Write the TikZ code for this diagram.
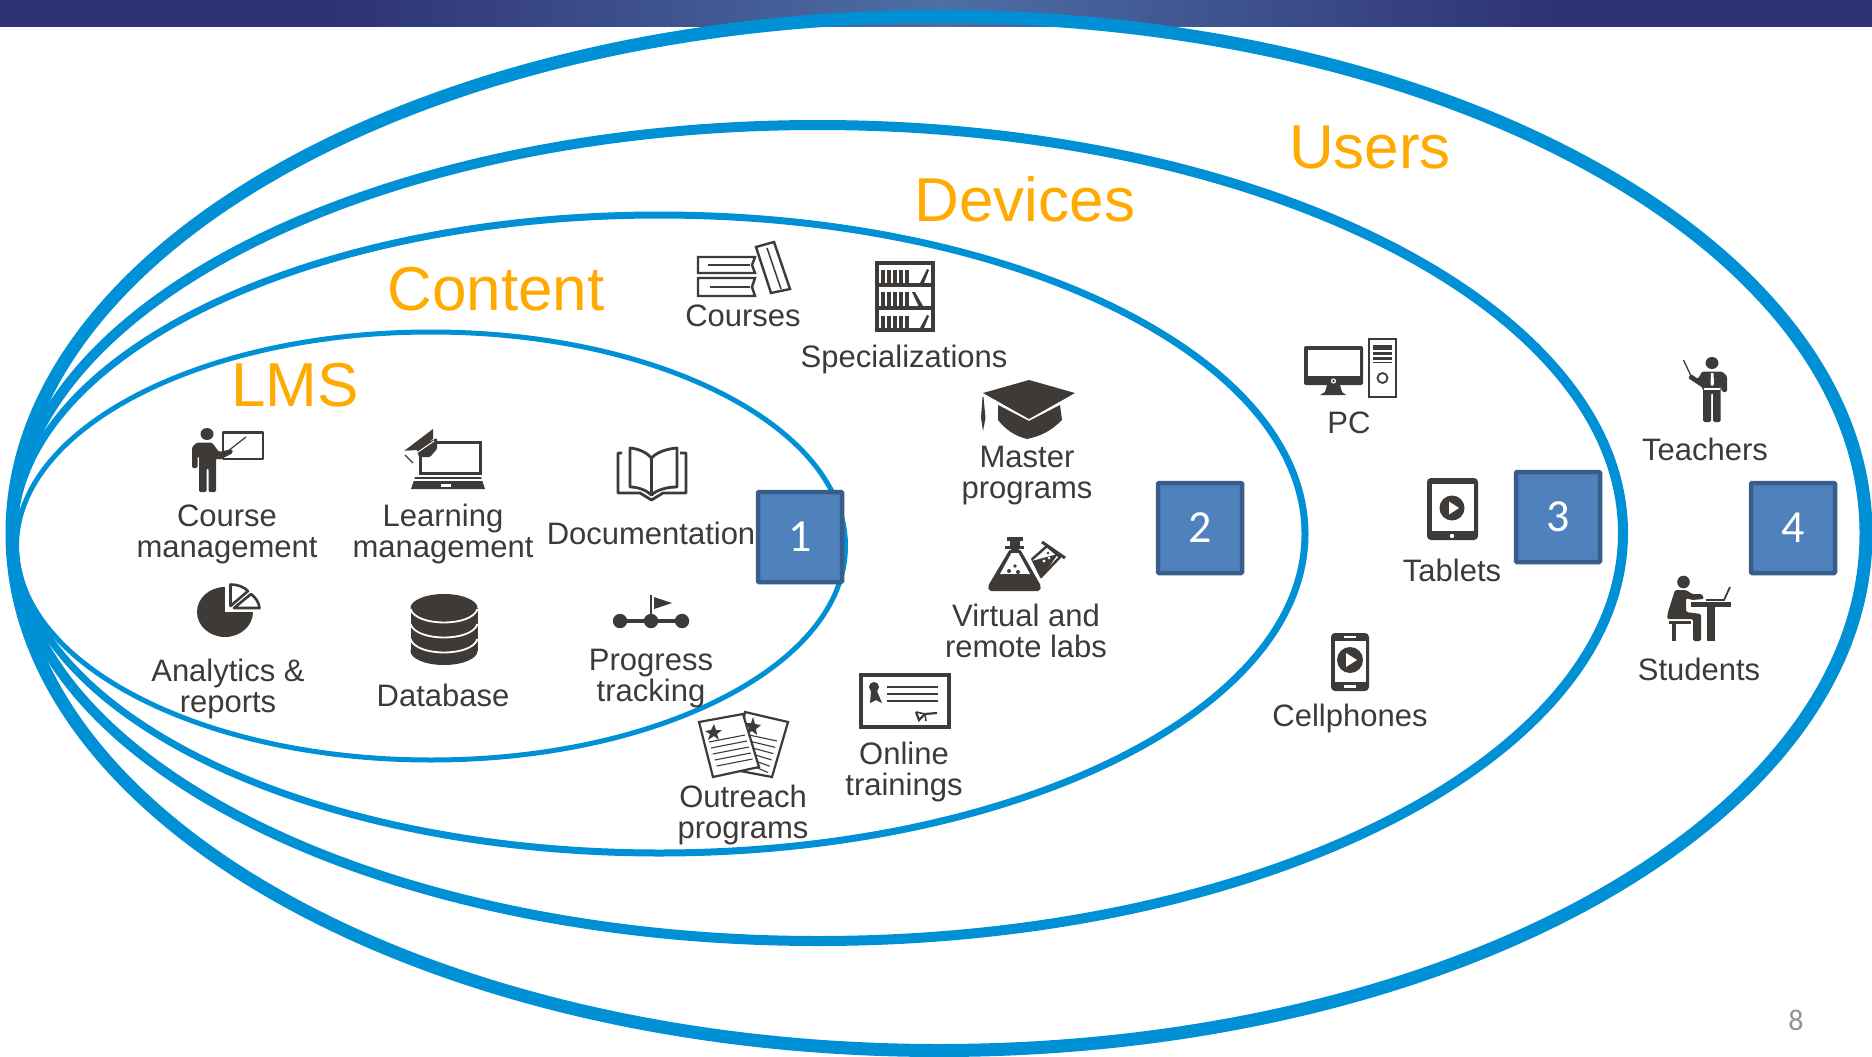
\documentclass[tikz,border=0pt]{standalone}
\usepackage{fontspec}
\setmainfont{Liberation Sans}
\newfontfamily\carlito{Carlito}
\usetikzlibrary{calc}
\definecolor{ringblue}{HTML}{0090D5}
\definecolor{headorange}{HTML}{FFAA00}
\definecolor{ink}{HTML}{3E3A37}
\definecolor{boxfill}{HTML}{4F81BD}
\definecolor{boxline}{HTML}{385D8A}
\definecolor{bardark}{HTML}{2D3272}
\definecolor{barlight}{HTML}{4D6FA5}
\tikzset{
  x=1pt,y=-1pt,
  ring/.style={draw=ringblue},
  heading/.style={text=headorange,font=\fontsize{62}{62}\selectfont,inner sep=0pt},
  caption/.style={text=ink,align=center,inner sep=0pt,font=\fontsize{31}{31}\selectfont},
  numbox/.style={draw=boxline,fill=boxfill,line width=4.5pt,rounded corners=1pt,minimum width=84pt,minimum height=90pt,inner sep=0pt,text=white,font=\carlito\fontsize{46}{46}\selectfont},
  solid ink/.style={fill=ink,draw=none},
  outline/.style={draw=ink,line width=2.8pt,fill=white,line join=round},
  cutline/.style={draw=white,line width=1.8pt},
}
\begin{document}
\begin{tikzpicture}
\useasboundingbox (0,0) rectangle (1872,1057);
\fill[white] (0,0) rectangle (1872,1057);
% top bar
\fill[bardark] (0,0) rectangle (1872,27);
\begin{scope}
\clip (330,0) rectangle (1560,26.2);
\fill[left color=bardark,right color=barlight] (330,-5) rectangle (941,30);
\fill[left color=barlight,right color=bardark] (940,-5) rectangle (1560,30);
\end{scope}
% rings
\draw[ring,line width=13pt] (939,533.5) ellipse [x radius=927,y radius=517];
\draw[ring,line width=10pt] (818,533) ellipse [x radius=805,y radius=408];
\draw[ring,line width=7pt] (659.5,534) ellipse [x radius=645.5,y radius=319];
\draw[ring,line width=5pt] (431,546) ellipse [x radius=414.5,y radius=214];
% headings
\node[heading] (hlms) at (295,385) {LMS};
\node[heading] (hcontent) at (496,289) {Content};
\node[heading] (hdevices) at (1025,199) {Devices};
\node[heading] (husers) at (1370,147) {Users};
% captions
\node[caption] (tcourse) at (227,534) {Course\\management};
\node[caption] (tlearn) at (443,534) {Learning\\management};
\node[caption] (tdoc) at (651,533) {Documentation};
\node[caption] (tana) at (228,689) {Analytics \&\\reports};
\node[caption] (tdb) at (443,695) {Database};
\node[caption] (tprog) at (651,679) {Progress\\tracking};
\node[caption] (tcourses) at (743,316) {Courses};
\node[caption] (tspec) at (904,359) {Specializations};
\node[caption] (tmaster) at (1027,476) {Master\\programs};
\node[caption] (tlabs) at (1026,631) {Virtual and\\remote labs};
\node[caption] (ttrain) at (904,772) {Online\\trainings};
\node[caption] (toutreach) at (743,815) {Outreach\\programs};
\node[caption] (tpc) at (1349,423) {PC};
\node[caption] (ttablet) at (1452,570) {Tablets};
\node[caption] (tcell) at (1350,718) {Cellphones};
\node[caption] (tteach) at (1705,449) {Teachers};
\node[caption] (tstud) at (1699,669) {Students};
% number boxes
\node[numbox] (b1) at (800,537) {1};
\node[numbox] (b2) at (1200,528) {2};
\node[numbox] (b3) at (1558,517) {3};
\node[numbox] (b4) at (1793,528) {4};
\node[text=gray!85,font=\carlito\fontsize{30}{30}\selectfont,inner sep=0pt] (pageno) at (1796,1020) {8};
% ---- Course management icon
\draw[outline] (223,432.5) rectangle (263,459);
\draw[ink,line width=1.2pt] (228,451) -- (246,437);
\fill[solid ink] (207,434) ellipse [x radius=6.5,y radius=6];
\fill[solid ink,rounded corners=1.5pt] (192,468) -- (192,447) -- (197,442.5) -- (212,442.5) -- (219,452) -- (232,449) -- (233,453) -- (219,460) -- (216,458) -- (216,492) -- (208.5,492) -- (208.5,468) -- (206.5,468) -- (206.5,492) -- (199,492) -- (199,456) -- (197.5,456) -- (197.5,468) -- cycle;
% ---- Learning management icon
\draw[draw=ink,line width=3pt,fill=white] (420,442) rectangle (480,473);
\fill[solid ink] (415,477) -- (481,477) -- (485,489) -- (411,489) -- cycle;
\draw[white,line width=1.2pt] (413,480) -- (483,480);
\fill[white] (441,484) rectangle (451,486.5);
\fill[solid ink,rounded corners=1pt] (416,448) -- (437,438) -- (437,449) -- (430,457) -- (419,457) -- cycle;
\fill[solid ink] (404,451) -- (433,429) -- (433,439) -- (416,450) -- cycle;
\draw[white,line width=1pt] (404,451) -- (418,452) -- (434,441);
\draw[ink,line width=1.3pt] (405,455) -- (413,463);
% ---- Documentation icon
\draw[outline,fill=none] (622,453) -- (618,453) -- (618,493) -- (640,493) -- (651.5,500) -- (663,493) -- (686,493) -- (686,453) -- (680,453);
\draw[outline,fill=none] (630,448) .. controls (640,449) and (647,453) .. (651.5,458) .. controls (656,453) and (665,449) .. (677,448) -- (677,487) .. controls (666,487) and (657,490) .. (651.5,495) .. controls (646,490) and (638,487) .. (630,487) -- cycle;
\draw[ink,line width=2.8pt] (651.5,458) -- (651.5,495);
% ---- Analytics icon
\fill[solid ink] (225,612) ellipse [x radius=28,y radius=25];
\fill[white] (225,582) rectangle (256,612);
\draw[draw=ink,line width=2.6pt,fill=white,line join=round] (230.5,606) -- (230.5,584.5) .. controls (238,584.5) and (244,587) .. (248,591) -- cycle;
\draw[draw=ink,line width=2.6pt,fill=white,line join=round] (234,608) -- (251,594) .. controls (255,597) and (259,602) .. (259.5,608) -- cycle;
% ---- Database icon
\fill[solid ink] (410.5,608) rectangle (477.5,651);
\fill[solid ink] (444,651) ellipse [x radius=33.5,y radius=14];
\fill[solid ink] (444,608) ellipse [x radius=33.5,y radius=14];
\draw[cutline] (410.5,609) .. controls (416,627) and (472,627) .. (477.5,609);
\draw[cutline] (410.5,624) .. controls (416,642) and (472,642) .. (477.5,624);
\draw[cutline] (410.5,639) .. controls (416,657) and (472,657) .. (477.5,639);
% ---- Progress icon
\draw[ink,line width=4pt] (620,621) -- (682,621);
\fill[solid ink] (620,621) circle (7.2);
\fill[solid ink] (651,621) circle (7.2);
\fill[solid ink] (682,621) circle (7.2);
\draw[ink,line width=2pt] (651,595) -- (651,621);
\fill[solid ink] (654,597) -- (672,603) -- (654,609) -- cycle;
% ---- Courses icon
\draw[draw=ink,line width=2.4pt,fill=white] (755,257) -- (698,257) -- (698,273) -- (755,273) -- (752,265) -- cycle;
\draw[draw=ink,line width=2.4pt,fill=white] (755,278) -- (698,278) -- (698,296) -- (755,296) -- (752,287) -- cycle;
\draw[ink,line width=1.5pt] (708,265) -- (750,265);
\draw[ink,line width=1.5pt] (710,287) -- (750,287);
\draw[draw=ink,line width=2.4pt,fill=white] (756,247) -- (774,242) -- (790,289) -- (771,293) -- cycle;
\draw[ink,line width=1.5pt] (767,248) -- (781,289);
% ---- Specializations icon
\draw[draw=ink,line width=4.2pt,fill=white] (877,263) rectangle (933,330);
\draw[ink,line width=4pt] (877,285) -- (933,285);
\draw[ink,line width=4pt] (877,308) -- (933,308);
\foreach \sy/\sh in {270/13,292/14,316/12}{
  \foreach \sx in {881,887,893,899,905}{
    \fill[solid ink] (\sx,\sy) rectangle ($(\sx,\sy)+(4.4,\sh)$);
  }
}
\fill[solid ink] (920,283) -- (924,283) -- (929,270) -- (927,269) -- cycle;
\fill[solid ink] (912,292) -- (915,292) -- (923,306) -- (919,307) -- cycle;
\fill[solid ink] (920,328) -- (924,328) -- (929,316) -- (927,315) -- cycle;
% ---- Master programs icon
\fill[solid ink] (983,393) -- (1029,380) -- (1075,393) -- (1029,419) -- cycle;
\fill[solid ink] (998,405) -- (1029,421) -- (1060,405) -- (1062,420) .. controls (1050,432) and (1040,436) .. (1027,439) .. controls (1015,436) and (1006,430) .. (998,420) -- cycle;
\fill[solid ink] (982.5,397) -- (983.5,397) -- (985.5,418) -- (983,431) -- (981,418) -- cycle;
% ---- Labs icon
\draw[draw=ink,line width=2.5pt,fill=white,line join=round] (1029,562) -- (1047,546) -- (1060,557) -- (1041,577) -- cycle;
\draw[ink,line width=3pt] (1042,542) -- (1065,558);
\fill[solid ink] (1028,562) -- (1058,554) -- (1041,578) -- cycle;
\fill[white] (1044,561) circle (1.7);
\fill[white] (1049,558) circle (1.5);
\fill[solid ink] (1048,553) circle (1.4);
\fill[solid ink] (1052,550) circle (1.2);
\fill[solid ink] (1007,537) rectangle (1023,541);
\fill[solid ink] (1010,541) rectangle (1020,546);
\fill[solid ink] (1005,546) rectangle (1024,549);
\fill[white] (1006,549) -- (1026,549) -- (1046,590) -- (984,592) -- cycle;
\fill[solid ink,rounded corners=2pt] (1010,549) -- (1020,549) -- (1041,586) -- (1040,591) -- (989,591) -- (988,586) -- cycle;
\fill[white] (1011.5,553) -- (1018.5,553) -- (1030,574) -- (1000,574) -- cycle;
\fill[solid ink] (1003,574) -- (1027,574) -- (1029,578) -- (1001,578) -- cycle;
\fill[solid ink] (1015,566) circle (1.8);
\fill[solid ink] (1009,571) circle (2);
\fill[solid ink] (1018,572) circle (2);
% ---- Online trainings icon
\draw[draw=ink,line width=3.8pt,fill=white] (861,675) rectangle (949,727);
\draw[ink,line width=1.2pt] (887,687) -- (938,687);
\draw[ink,line width=1.2pt] (887,694) -- (938,694);
\draw[ink,line width=1.2pt] (887,701) -- (938,701);
\fill[solid ink] (874,687) circle (5);
\fill[solid ink] (871,691) -- (877,691) -- (882,703) -- (876,700) -- (870,703) -- cycle;
\draw[ink,line width=2.2pt] (916,712) -- (919,720) -- (925,714) -- (937,713);
\draw[ink,line width=1.6pt] (916,712) -- (925,714) -- (926,721);
% ---- Outreach icon
\draw[draw=ink,line width=2.2pt,fill=white] (745,712) -- (788,722) -- (772,777) -- (735,770) -- cycle;
\foreach \i in {0,...,5}{\draw[ink,line width=1.1pt] ($(749,735)+(1.0*\i,6.3*\i)$) -- ($(777,741)+(-1.8*\i,6.3*\i)$);}
\fill[solid ink] (753,717) -- (755,724) -- (761,725) -- (756,729) -- (757,735) -- (752,731) -- (747,734) -- (749,728) -- (746,723) -- (751,723) -- cycle;
\draw[draw=ink,line width=2.2pt,fill=white] (699,722) -- (743,714) -- (759,767) -- (713,777) -- cycle;
\foreach \i in {0,...,4}{\draw[ink,line width=1.1pt] ($(709,742)+(1.9*\i,6.0*\i)$) -- ($(745,735)+(1.9*\i,6.0*\i)$);}
\fill[solid ink] (714,724) -- (716,730) -- (722,730) -- (717,734) -- (719,740) -- (714,736) -- (708,740) -- (710,734) -- (705,731) -- (711,730) -- cycle;
% ---- PC icon
\fill[solid ink,rounded corners=2pt] (1304,346) rectangle (1363,385);
\fill[white] (1307.5,350) rectangle (1359.5,376);
\fill[white] (1333.5,381) circle (2.6);
\fill[solid ink] (1333.5,381) circle (1.4);
\fill[solid ink] (1327,385) -- (1340,385) -- (1342,392) -- (1346,395) -- (1320,395) -- (1325,392) -- cycle;
\draw[draw=ink,line width=2.4pt,fill=white] (1369,339) rectangle (1396,397);
\fill[solid ink] (1373,345) rectangle (1392,350);
\fill[solid ink] (1373,352) rectangle (1392,355);
\fill[solid ink] (1373,357) rectangle (1392,360);
\fill[solid ink] (1373,362) rectangle (1392,363);
\draw[ink,line width=1.8pt] (1382.5,378) circle (5);
% ---- Tablet icon
\fill[solid ink,rounded corners=4pt] (1427,478) rectangle (1478,540);
\fill[white] (1431.5,484) rectangle (1473.5,531);
\fill[white] (1452,536) circle (2.2);
\fill[solid ink] (1452,508) circle (12.5);
\fill[white] (1449,501.5) -- (1459,508) -- (1449,514.5) -- cycle;
% ---- Cellphone icon
\fill[solid ink,rounded corners=4pt] (1331,633) rectangle (1369,691);
\fill[white] (1334.5,641) rectangle (1365.5,682);
\fill[white] (1344,685) rectangle (1356,688);
\fill[white] (1344,636) rectangle (1356,637.5);
\fill[solid ink] (1350,660) circle (13);
\fill[white] (1346,653) -- (1357,660) -- (1346,667) -- cycle;
% ---- Teacher icon
\draw[ink,line width=1.3pt] (1683.5,360) -- (1691,376);
\fill[solid ink] (1712,363) ellipse [x radius=6.5,y radius=6];
\fill[solid ink,rounded corners=1.5pt] (1688,378) -- (1691,374) -- (1698,379) -- (1702,371.5) -- (1722,371.5) -- (1727,376) -- (1727,392) -- (1722,392) -- (1720.5,385) -- (1720.5,422) -- (1713,422) -- (1713,393) -- (1711,393) -- (1711,422) -- (1703,422) -- (1703,388) -- cycle;
\fill[white] (1704,388) rectangle (1720,390);
\fill[white] (1711,373) -- (1713.5,373) -- (1714,384) -- (1712,386) -- (1710.5,384) -- cycle;
% ---- Student icon
\fill[solid ink] (1683.5,582) circle (6.3);
\fill[solid ink,rounded corners=1.5pt] (1675,590) -- (1686,590) -- (1692,594) -- (1702,594) -- (1704,599) -- (1692,600) -- (1686,598) -- (1686,612) -- (1701,614) -- (1701,641) -- (1693,641) -- (1693,619) -- (1667,619) -- (1668,612) -- cycle;
\fill[solid ink] (1669,620.5) rectangle (1691,624);
\fill[solid ink] (1672,624) rectangle (1675.5,641);
\fill[solid ink] (1691,602) rectangle (1731,607);
\fill[solid ink] (1707,607) rectangle (1715,641);
\draw[ink,line width=1.8pt] (1706,600) -- (1724,600) -- (1730,587);
\end{tikzpicture}
\end{document}
